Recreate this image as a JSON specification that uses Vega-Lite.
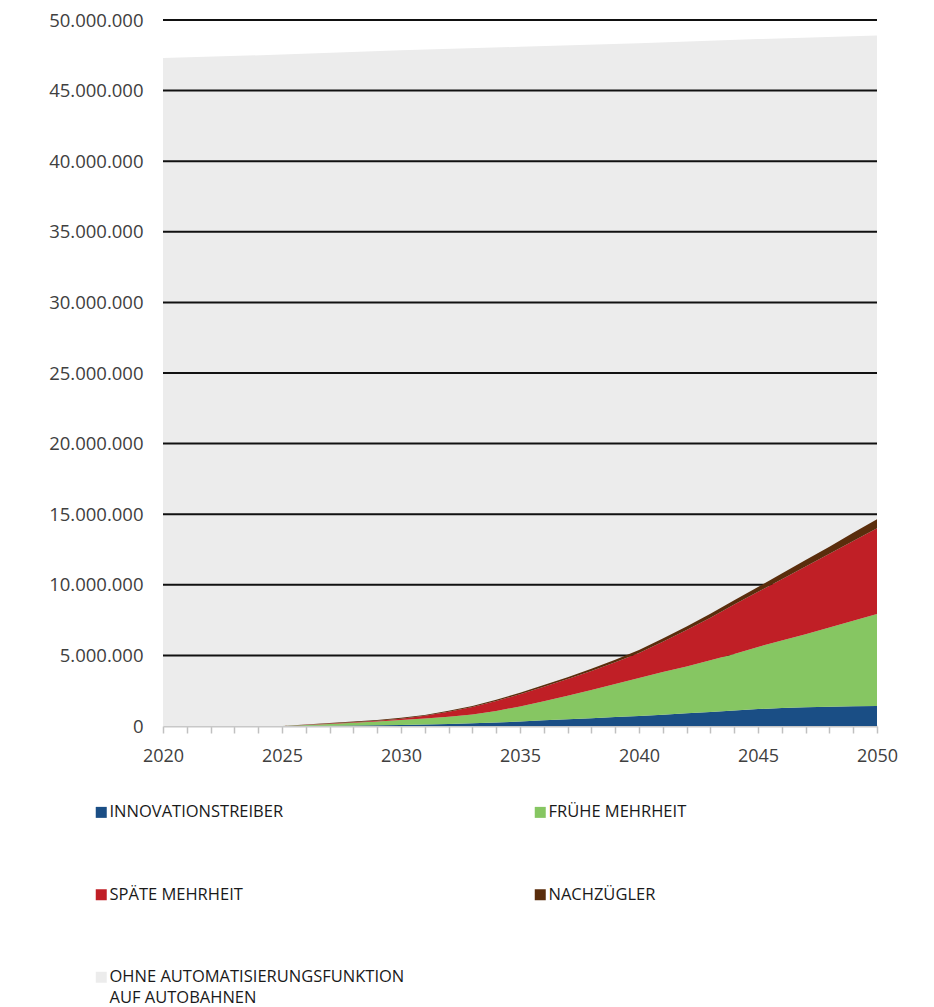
{
  "$schema": "https://vega.github.io/schema/vega-lite/v6.json",
  "width": 714,
  "height": 706,
  "autosize": "none",
  "padding": {"left": 163, "top": 20, "right": 57, "bottom": 281},
  "background": "#ffffff",
  "config": {
    "locale": {"number": {"decimal": ",", "thousands": ".", "grouping": [3], "currency": ["", " €"]}},
    "view": {"stroke": null},
    "font": "Open Sans"
  },
  "datasets": {
    "total": [
      {"year": 2020, "series": "OHNE AUTOMATISIERUNGSFUNKTION AUF AUTOBAHNEN", "value": 47300000},
      {"year": 2025, "series": "OHNE AUTOMATISIERUNGSFUNKTION AUF AUTOBAHNEN", "value": 47550000},
      {"year": 2030, "series": "OHNE AUTOMATISIERUNGSFUNKTION AUF AUTOBAHNEN", "value": 47850000},
      {"year": 2035, "series": "OHNE AUTOMATISIERUNGSFUNKTION AUF AUTOBAHNEN", "value": 48100000},
      {"year": 2040, "series": "OHNE AUTOMATISIERUNGSFUNKTION AUF AUTOBAHNEN", "value": 48350000},
      {"year": 2045, "series": "OHNE AUTOMATISIERUNGSFUNKTION AUF AUTOBAHNEN", "value": 48650000},
      {"year": 2050, "series": "OHNE AUTOMATISIERUNGSFUNKTION AUF AUTOBAHNEN", "value": 48900000}
    ],
    "grid": [
      {"value": 5000000}, {"value": 10000000}, {"value": 15000000}, {"value": 20000000}, {"value": 25000000},
      {"value": 30000000}, {"value": 35000000}, {"value": 40000000}, {"value": 45000000}, {"value": 50000000}
    ],
    "groups": [
      {"year": 2025, "series": "INNOVATIONSTREIBER", "rank": 1, "value": 0},
      {"year": 2025, "series": "FRÜHE MEHRHEIT", "rank": 2, "value": 0},
      {"year": 2025, "series": "SPÄTE MEHRHEIT", "rank": 3, "value": 0},
      {"year": 2025, "series": "NACHZÜGLER", "rank": 4, "value": 0},
      {"year": 2026, "series": "INNOVATIONSTREIBER", "rank": 1, "value": 10000},
      {"year": 2026, "series": "FRÜHE MEHRHEIT", "rank": 2, "value": 60000},
      {"year": 2026, "series": "SPÄTE MEHRHEIT", "rank": 3, "value": 10000},
      {"year": 2026, "series": "NACHZÜGLER", "rank": 4, "value": 30000},
      {"year": 2027, "series": "INNOVATIONSTREIBER", "rank": 1, "value": 20000},
      {"year": 2027, "series": "FRÜHE MEHRHEIT", "rank": 2, "value": 130000},
      {"year": 2027, "series": "SPÄTE MEHRHEIT", "rank": 3, "value": 20000},
      {"year": 2027, "series": "NACHZÜGLER", "rank": 4, "value": 40000},
      {"year": 2028, "series": "INNOVATIONSTREIBER", "rank": 1, "value": 30000},
      {"year": 2028, "series": "FRÜHE MEHRHEIT", "rank": 2, "value": 200000},
      {"year": 2028, "series": "SPÄTE MEHRHEIT", "rank": 3, "value": 40000},
      {"year": 2028, "series": "NACHZÜGLER", "rank": 4, "value": 40000},
      {"year": 2029, "series": "INNOVATIONSTREIBER", "rank": 1, "value": 45000},
      {"year": 2029, "series": "FRÜHE MEHRHEIT", "rank": 2, "value": 275000},
      {"year": 2029, "series": "SPÄTE MEHRHEIT", "rank": 3, "value": 60000},
      {"year": 2029, "series": "NACHZÜGLER", "rank": 4, "value": 50000},
      {"year": 2030, "series": "INNOVATIONSTREIBER", "rank": 1, "value": 70000},
      {"year": 2030, "series": "FRÜHE MEHRHEIT", "rank": 2, "value": 350000},
      {"year": 2030, "series": "SPÄTE MEHRHEIT", "rank": 3, "value": 100000},
      {"year": 2030, "series": "NACHZÜGLER", "rank": 4, "value": 60000},
      {"year": 2031, "series": "INNOVATIONSTREIBER", "rank": 1, "value": 100000},
      {"year": 2031, "series": "FRÜHE MEHRHEIT", "rank": 2, "value": 430000},
      {"year": 2031, "series": "SPÄTE MEHRHEIT", "rank": 3, "value": 190000},
      {"year": 2031, "series": "NACHZÜGLER", "rank": 4, "value": 60000},
      {"year": 2032, "series": "INNOVATIONSTREIBER", "rank": 1, "value": 140000},
      {"year": 2032, "series": "FRÜHE MEHRHEIT", "rank": 2, "value": 520000},
      {"year": 2032, "series": "SPÄTE MEHRHEIT", "rank": 3, "value": 350000},
      {"year": 2032, "series": "NACHZÜGLER", "rank": 4, "value": 70000},
      {"year": 2033, "series": "INNOVATIONSTREIBER", "rank": 1, "value": 190000},
      {"year": 2033, "series": "FRÜHE MEHRHEIT", "rank": 2, "value": 630000},
      {"year": 2033, "series": "SPÄTE MEHRHEIT", "rank": 3, "value": 520000},
      {"year": 2033, "series": "NACHZÜGLER", "rank": 4, "value": 80000},
      {"year": 2034, "series": "INNOVATIONSTREIBER", "rank": 1, "value": 250000},
      {"year": 2034, "series": "FRÜHE MEHRHEIT", "rank": 2, "value": 820000},
      {"year": 2034, "series": "SPÄTE MEHRHEIT", "rank": 3, "value": 700000},
      {"year": 2034, "series": "NACHZÜGLER", "rank": 4, "value": 90000},
      {"year": 2035, "series": "INNOVATIONSTREIBER", "rank": 1, "value": 320000},
      {"year": 2035, "series": "FRÜHE MEHRHEIT", "rank": 2, "value": 1060000},
      {"year": 2035, "series": "SPÄTE MEHRHEIT", "rank": 3, "value": 870000},
      {"year": 2035, "series": "NACHZÜGLER", "rank": 4, "value": 100000},
      {"year": 2036, "series": "INNOVATIONSTREIBER", "rank": 1, "value": 400000},
      {"year": 2036, "series": "FRÜHE MEHRHEIT", "rank": 2, "value": 1350000},
      {"year": 2036, "series": "SPÄTE MEHRHEIT", "rank": 3, "value": 1030000},
      {"year": 2036, "series": "NACHZÜGLER", "rank": 4, "value": 120000},
      {"year": 2037, "series": "INNOVATIONSTREIBER", "rank": 1, "value": 480000},
      {"year": 2037, "series": "FRÜHE MEHRHEIT", "rank": 2, "value": 1670000},
      {"year": 2037, "series": "SPÄTE MEHRHEIT", "rank": 3, "value": 1170000},
      {"year": 2037, "series": "NACHZÜGLER", "rank": 4, "value": 130000},
      {"year": 2038, "series": "INNOVATIONSTREIBER", "rank": 1, "value": 550000},
      {"year": 2038, "series": "FRÜHE MEHRHEIT", "rank": 2, "value": 2000000},
      {"year": 2038, "series": "SPÄTE MEHRHEIT", "rank": 3, "value": 1350000},
      {"year": 2038, "series": "NACHZÜGLER", "rank": 4, "value": 150000},
      {"year": 2039, "series": "INNOVATIONSTREIBER", "rank": 1, "value": 630000},
      {"year": 2039, "series": "FRÜHE MEHRHEIT", "rank": 2, "value": 2340000},
      {"year": 2039, "series": "SPÄTE MEHRHEIT", "rank": 3, "value": 1550000},
      {"year": 2039, "series": "NACHZÜGLER", "rank": 4, "value": 180000},
      {"year": 2040, "series": "INNOVATIONSTREIBER", "rank": 1, "value": 710000},
      {"year": 2040, "series": "FRÜHE MEHRHEIT", "rank": 2, "value": 2690000},
      {"year": 2040, "series": "SPÄTE MEHRHEIT", "rank": 3, "value": 1770000},
      {"year": 2040, "series": "NACHZÜGLER", "rank": 4, "value": 210000},
      {"year": 2041, "series": "INNOVATIONSTREIBER", "rank": 1, "value": 800000},
      {"year": 2041, "series": "FRÜHE MEHRHEIT", "rank": 2, "value": 3020000},
      {"year": 2041, "series": "SPÄTE MEHRHEIT", "rank": 3, "value": 2150000},
      {"year": 2041, "series": "NACHZÜGLER", "rank": 4, "value": 230000},
      {"year": 2042, "series": "INNOVATIONSTREIBER", "rank": 1, "value": 900000},
      {"year": 2042, "series": "FRÜHE MEHRHEIT", "rank": 2, "value": 3320000},
      {"year": 2042, "series": "SPÄTE MEHRHEIT", "rank": 3, "value": 2580000},
      {"year": 2042, "series": "NACHZÜGLER", "rank": 4, "value": 250000},
      {"year": 2043, "series": "INNOVATIONSTREIBER", "rank": 1, "value": 1000000},
      {"year": 2043, "series": "FRÜHE MEHRHEIT", "rank": 2, "value": 3650000},
      {"year": 2043, "series": "SPÄTE MEHRHEIT", "rank": 3, "value": 3020000},
      {"year": 2043, "series": "NACHZÜGLER", "rank": 4, "value": 280000},
      {"year": 2044, "series": "INNOVATIONSTREIBER", "rank": 1, "value": 1100000},
      {"year": 2044, "series": "FRÜHE MEHRHEIT", "rank": 2, "value": 4000000},
      {"year": 2044, "series": "SPÄTE MEHRHEIT", "rank": 3, "value": 3500000},
      {"year": 2044, "series": "NACHZÜGLER", "rank": 4, "value": 300000},
      {"year": 2045, "series": "INNOVATIONSTREIBER", "rank": 1, "value": 1200000},
      {"year": 2045, "series": "FRÜHE MEHRHEIT", "rank": 2, "value": 4400000},
      {"year": 2045, "series": "SPÄTE MEHRHEIT", "rank": 3, "value": 3900000},
      {"year": 2045, "series": "NACHZÜGLER", "rank": 4, "value": 340000},
      {"year": 2046, "series": "INNOVATIONSTREIBER", "rank": 1, "value": 1270000},
      {"year": 2046, "series": "FRÜHE MEHRHEIT", "rank": 2, "value": 4780000},
      {"year": 2046, "series": "SPÄTE MEHRHEIT", "rank": 3, "value": 4350000},
      {"year": 2046, "series": "NACHZÜGLER", "rank": 4, "value": 400000},
      {"year": 2047, "series": "INNOVATIONSTREIBER", "rank": 1, "value": 1330000},
      {"year": 2047, "series": "FRÜHE MEHRHEIT", "rank": 2, "value": 5170000},
      {"year": 2047, "series": "SPÄTE MEHRHEIT", "rank": 3, "value": 4800000},
      {"year": 2047, "series": "NACHZÜGLER", "rank": 4, "value": 450000},
      {"year": 2048, "series": "INNOVATIONSTREIBER", "rank": 1, "value": 1370000},
      {"year": 2048, "series": "FRÜHE MEHRHEIT", "rank": 2, "value": 5610000},
      {"year": 2048, "series": "SPÄTE MEHRHEIT", "rank": 3, "value": 5220000},
      {"year": 2048, "series": "NACHZÜGLER", "rank": 4, "value": 500000},
      {"year": 2049, "series": "INNOVATIONSTREIBER", "rank": 1, "value": 1400000},
      {"year": 2049, "series": "FRÜHE MEHRHEIT", "rank": 2, "value": 6050000},
      {"year": 2049, "series": "SPÄTE MEHRHEIT", "rank": 3, "value": 5650000},
      {"year": 2049, "series": "NACHZÜGLER", "rank": 4, "value": 580000},
      {"year": 2050, "series": "INNOVATIONSTREIBER", "rank": 1, "value": 1420000},
      {"year": 2050, "series": "FRÜHE MEHRHEIT", "rank": 2, "value": 6510000},
      {"year": 2050, "series": "SPÄTE MEHRHEIT", "rank": 3, "value": 6070000},
      {"year": 2050, "series": "NACHZÜGLER", "rank": 4, "value": 650000}
    ]
  },
  "layer": [
    {
      "data": {"name": "total"},
      "mark": {"type": "area", "interpolate": "linear"},
      "encoding": {
        "x": {
          "field": "year", "type": "quantitative",
          "scale": {"domain": [2020, 2050], "nice": false, "zero": false},
          "axis": {
            "title": null,
            "values": [2020,2021,2022,2023,2024,2025,2026,2027,2028,2029,2030,2031,2032,2033,2034,2035,2036,2037,2038,2039,2040,2041,2042,2043,2044,2045,2046,2047,2048,2049,2050],
            "labelExpr": "datum.value % 5 == 0 ? format(datum.value, 'd') : ''",
            "labelFlush": false,
            "labelOverlap": false,
            "labelFontSize": 18,
            "labelColor": "#404040",
            "labelPadding": 14,
            "grid": false,
            "domainColor": "#c8c8c8",
            "domainWidth": 2,
            "tickColor": "#c0c0c0",
            "tickSize": 7,
            "tickWidth": 1.5
          }
        },
        "y": {
          "field": "value", "type": "quantitative",
          "scale": {"domain": [0, 50000000], "nice": false},
          "axis": {
            "title": null,
            "values": [0,5000000,10000000,15000000,20000000,25000000,30000000,35000000,40000000,45000000,50000000],
            "format": ",d",
            "grid": false,
            "domain": false,
            "ticks": false,
            "labelPadding": 20,
            "labelFontSize": 18.5,
            "labelColor": "#404040"
          }
        },
        "color": {
          "field": "series", "type": "nominal",
          "scale": {
            "domain": ["INNOVATIONSTREIBER", "FRÜHE MEHRHEIT", "SPÄTE MEHRHEIT", "NACHZÜGLER", "OHNE AUTOMATISIERUNGSFUNKTION AUF AUTOBAHNEN"],
            "range": ["#1a4e85", "#86c662", "#c01f26", "#5a2d0c", "#ececec"]
          },
          "legend": {
            "title": null,
            "orient": "none",
            "legendX": -70,
            "legendY": 784,
            "direction": "horizontal",
            "columns": 2,
            "columnPadding": 127,
            "rowPadding": 65.5,
            "padding": 0,
            "symbolType": "square",
            "symbolSize": 121,
            "symbolStrokeWidth": 0,
            "labelFontSize": 16.5,
            "labelColor": "#1a1a1a",
            "labelOffset": 0,
            "labelLimit": 0,
            "labelExpr": "datum.label == 'OHNE AUTOMATISIERUNGSFUNKTION AUF AUTOBAHNEN' ? ['OHNE AUTOMATISIERUNGSFUNKTION', 'AUF AUTOBAHNEN'] : datum.label",
            "encode": {
              "labels": {"update": {"lineHeight": {"value": 21}}}
            }
          }
        }
      }
    },
    {
      "data": {"name": "grid"},
      "mark": {"type": "rule", "color": "#111111", "strokeWidth": 2},
      "encoding": {
        "y": {
          "field": "value", "type": "quantitative",
          "axis": {
            "title": null,
            "values": [0,5000000,10000000,15000000,20000000,25000000,30000000,35000000,40000000,45000000,50000000],
            "format": ",d",
            "grid": false,
            "domain": false,
            "ticks": false,
            "labelPadding": 20,
            "labelFontSize": 18.5,
            "labelColor": "#404040"
          }
        }
      }
    },
    {
      "data": {"name": "groups"},
      "mark": {"type": "area", "interpolate": "linear"},
      "encoding": {
        "x": {
          "field": "year", "type": "quantitative",
          "axis": {
            "title": null,
            "values": [2020,2021,2022,2023,2024,2025,2026,2027,2028,2029,2030,2031,2032,2033,2034,2035,2036,2037,2038,2039,2040,2041,2042,2043,2044,2045,2046,2047,2048,2049,2050],
            "labelExpr": "datum.value % 5 == 0 ? format(datum.value, 'd') : ''",
            "labelFlush": false,
            "labelOverlap": false,
            "labelFontSize": 18,
            "labelColor": "#404040",
            "labelPadding": 14,
            "grid": false,
            "domainColor": "#c8c8c8",
            "domainWidth": 2,
            "tickColor": "#c0c0c0",
            "tickSize": 7,
            "tickWidth": 1.5
          }
        },
        "y": {
          "field": "value", "type": "quantitative", "stack": "zero",
          "axis": {
            "title": null,
            "values": [0,5000000,10000000,15000000,20000000,25000000,30000000,35000000,40000000,45000000,50000000],
            "format": ",d",
            "grid": false,
            "domain": false,
            "ticks": false,
            "labelPadding": 20,
            "labelFontSize": 18.5,
            "labelColor": "#404040"
          }
        },
        "color": {"field": "series", "type": "nominal"},
        "order": {"field": "rank", "type": "quantitative", "sort": "ascending"}
      }
    }
  ]
}
